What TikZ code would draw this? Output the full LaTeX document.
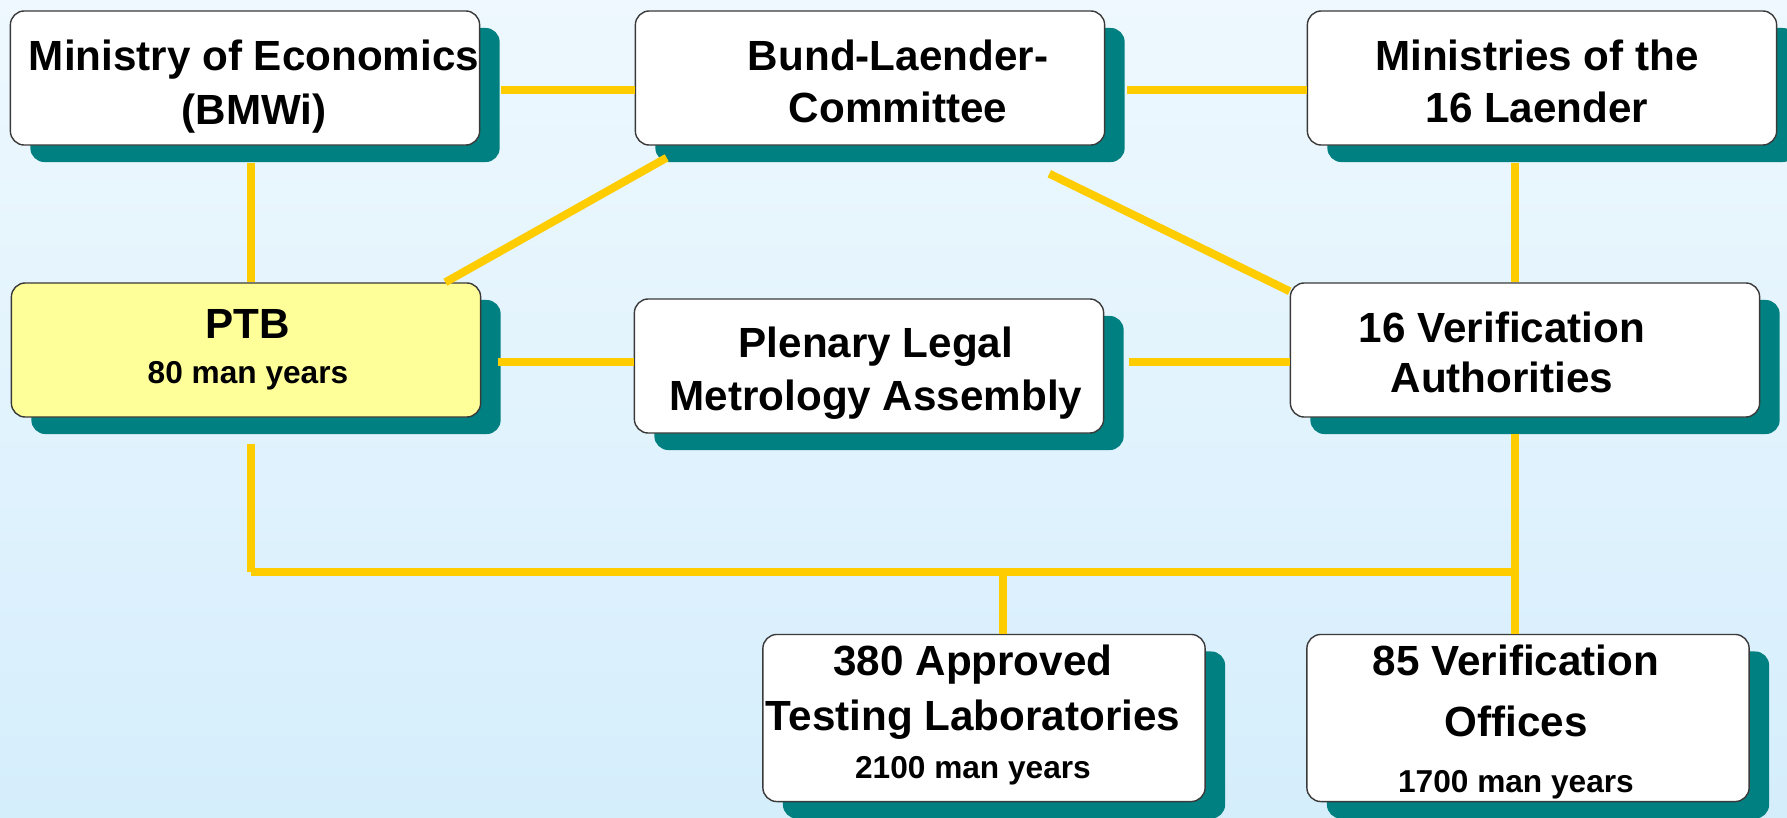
\documentclass[tikz,border=0pt]{standalone}
\usepackage{fontspec}
\setmainfont{Liberation Sans}
\usepackage{tikz}
\usetikzlibrary{calc,shadows}
\definecolor{bgtop}{HTML}{EEF8FE}
\definecolor{bgbottom}{HTML}{D5EEFC}
\definecolor{boxshadow}{HTML}{008080}
\definecolor{linkline}{HTML}{FFCC00}
\definecolor{ptbfill}{HTML}{FFFF99}
\definecolor{boxedge}{HTML}{3A3A3A}
\newcommand{\manyears}[1]{{\fontsize{9}{11}\selectfont #1 man years}}

\begin{document}
\begin{tikzpicture}[x=0.01cm,y=-0.01cm,
  orgbox/.style={draw=boxedge,line width=0.4pt,fill=white,rounded corners=0.14cm,
    minimum width=4.69cm,minimum height=1.34cm,inner sep=0pt,
    drop shadow={fill=boxshadow,opacity=1,shadow xshift=0.2cm,shadow yshift=-0.17cm}},
  lowbox/.style={orgbox,minimum width=4.42cm,minimum height=1.67cm},
  boxtext/.style={inner sep=0pt,align=center,font=\fontsize{12}{14.8}\selectfont\bfseries},
  link/.style={draw=linkline,line width=0.08cm}]
  \useasboundingbox (0,0) rectangle (1787,818);
  \shade[top color=bgtop,bottom color=bgbottom] (0,0) rectangle (1787,818);

  % upper row
  \node[orgbox,label={[boxtext,xshift=0.09cm,yshift=-0.09cm]center:{Ministry of Economics\\[0.02cm](BMWi)}}] (bmwi) at (245,78) {};
  \node[orgbox,label={[boxtext,xshift=0.28cm,yshift=-0.03cm]center:{Bund-Laender-\\Committee}}] (bund) at (870,78) {};
  \node[orgbox,label={[boxtext,xshift=-0.05cm,yshift=-0.03cm]center:{Ministries of the\\16 Laender}}] (laender) at (1542,78) {};

  % middle row
  \node[orgbox,fill=ptbfill,label={[boxtext,xshift=0.02cm]center:{PTB\\[-0.07cm]\manyears{80}}}] (ptb) at (246,350) {};
  \node[orgbox,label={[boxtext,xshift=0.07cm,yshift=-0.075cm]center:{Plenary Legal\\[0.01cm]Metrology Assembly}}] (plenary) at (869,366) {};
  \node[orgbox,label={[boxtext,xshift=-0.23cm,yshift=-0.02cm]center:{16 Verification\\[-0.02cm]Authorities}}] (va16) at (1525,350) {};

  % lower row
  \node[lowbox,label={[boxtext,xshift=-0.11cm,yshift=0.03cm]center:{380 Approved\\[0.03cm]Testing Laboratories\\[-0.04cm]\manyears{2100}}}] (labs) at (984,718) {};
  \node[lowbox,label={[boxtext,xshift=-0.12cm,yshift=-0.04cm]center:{85 Verification\\[0.09cm]Offices\\[0.04cm]\manyears{1700}}}] (offices) at (1528,718) {};

  \coordinate (busL) at ($(ptb.south)+(5,154)$);
  \coordinate (busR) at ($(va16.south)+(-10,154)$);

  \draw[link] ($(bmwi.east)+(21,12)$) -- ($(bund.west)+(0,12)$);
  \draw[link] ($(bund.east)+(22,12)$) -- ($(laender.west)+(0,12)$);
  \draw[link] ($(bmwi.south)+(6,17)$) -- ($(ptb.north)+(5,0)$);
  \draw[link] ($(ptb.north east)+(-36,0)$) -- ($(bund.south west)+(32,12)$);
  \draw[link] ($(bund.south east)+(-56,28)$) -- ($(va16.north west)+(0,9)$);
  \draw[link] ($(laender.south)+(-27,17)$) -- ($(va16.north)+(-10,0)$);
  \draw[link] ($(ptb.east)+(17,12)$) -- ($(plenary.west)+(0,-4)$);
  \draw[link] ($(plenary.east)+(25,-4)$) -- ($(va16.west)+(0,12)$);

  % bus to the bottom row
  \draw[link] ($(ptb.south)+(5,26)$) -- (busL);
  \draw[link] (busL) -- (busR);
  \draw[link] ($(va16.south)+(-10,16)$) -- ($(offices.north)+(-13,0)$);
  \draw[link] ($(labs.north |- busL)+(19,0)$) -- ($(labs.north)+(19,0)$);
\end{tikzpicture}
\end{document}
